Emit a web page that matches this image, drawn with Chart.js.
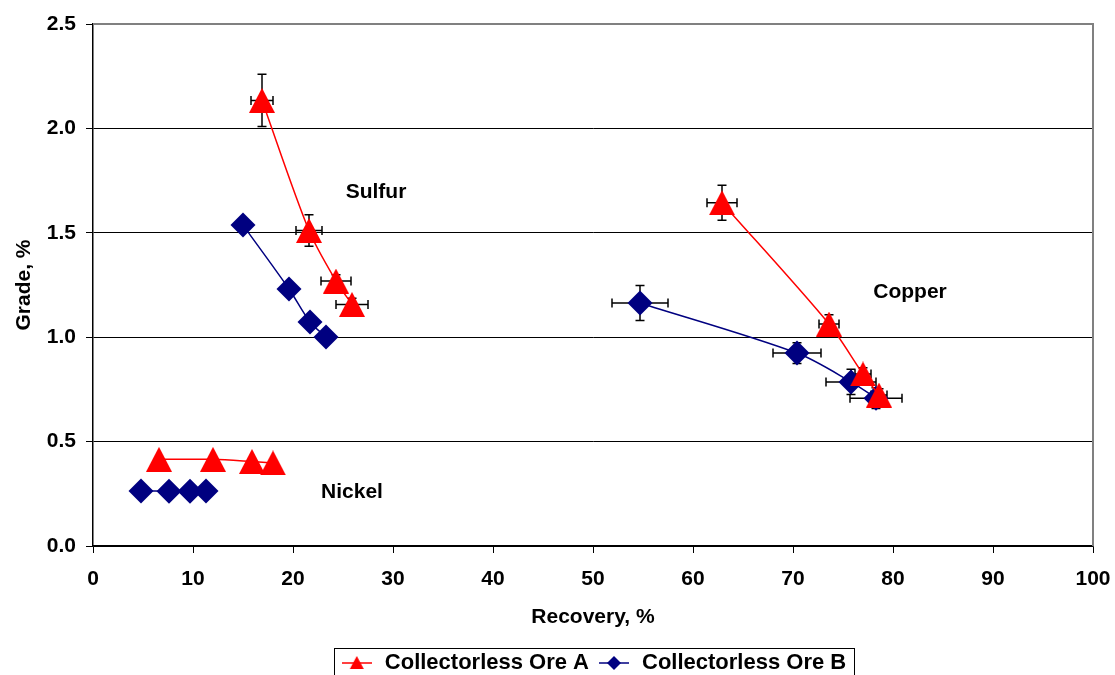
<!DOCTYPE html>
<html>
<head>
<meta charset="utf-8">
<title>Grade vs recovery</title>
<script src="https://cdn.jsdelivr.net/npm/chart.js@4.4.1/dist/chart.umd.min.js"></script>
<style>
  html, body { margin: 0; padding: 0; background: #fff; overflow: hidden; }
</style>
</head>
<body>
<canvas id="grade-chart" width="1115" height="690"></canvas>
<script>
// ---------- data ----------
const oreNames = ['Collectorless Ore A', 'Collectorless Ore B'];
const mineralNames = ['Nickel', 'Sulfur', 'Copper'];
const mineralLabelX = [25.9, 28.3, 81.7];
const mineralLabelY = [0.259, 1.695, 1.216];

// Ore A
const recA_Ni = [6.6, 12.0, 15.9, 18.0];
const gradeA_Ni = [0.415, 0.415, 0.405, 0.398];
const recA_S = [16.9, 21.6, 24.3, 25.9];
const gradeA_S = [2.134, 1.511, 1.269, 1.157];
const recErrA_S = [1.1, 1.3, 1.5, 1.6];
const gradeErrA_S = [0.125, 0.075, 0.03, 0.03];
const recA_Cu = [62.9, 73.6, 77.0, 78.6];
const gradeA_Cu = [1.644, 1.063, 0.824, 0.723];
const recErrA_Cu = [1.5, 1.0, 0.8, 0.8];
const gradeErrA_Cu = [0.084, 0.045, 0.03, 0.03];

// Ore B
const recB_Ni = [4.8, 7.6, 9.7, 11.3];
const gradeB_Ni = [0.264, 0.262, 0.262, 0.264];
const recB_S = [15.0, 19.6, 21.7, 23.3];
const gradeB_S = [1.537, 1.231, 1.073, 1.001];
const recB_Cu = [54.7, 70.4, 75.8, 78.3];
const gradeB_Cu = [1.164, 0.924, 0.786, 0.708];
const recErrB_Cu = [2.8, 2.4, 2.5, 2.6];
const gradeErrB_Cu = [0.084, 0.05, 0.06, 0.05];

const RED = '#ff0000';
const NAVY = '#000080';
const FONT = "'Liberation Sans', Arial, sans-serif";

// triangle marker centred on its bounding box (Excel style)
function triangleMarker(color, w, h) {
  const c = document.createElement('canvas');
  c.width = w; c.height = h;
  const g = c.getContext('2d');
  g.fillStyle = color;
  g.beginPath();
  g.moveTo(w / 2, 0);
  g.lineTo(w, h);
  g.lineTo(0, h);
  g.closePath();
  g.fill();
  return c;
}

// small line + marker swatch for the legend
function legendIcon(color, shape) {
  const c = document.createElement('canvas');
  c.width = 30; c.height = 16;
  const g = c.getContext('2d');
  g.strokeStyle = color;
  g.lineWidth = 1.5;
  g.beginPath(); g.moveTo(0, 8); g.lineTo(30, 8); g.stroke();
  g.fillStyle = color;
  g.beginPath();
  if (shape === 'triangle') {
    g.moveTo(15, 1); g.lineTo(22, 14); g.lineTo(8, 14);
  } else {
    g.moveTo(15, 1); g.lineTo(22, 8); g.lineTo(15, 15); g.lineTo(8, 8);
  }
  g.closePath(); g.fill();
  return c;
}

const triA = triangleMarker(RED, 26, 25);
const legendIcons = [legendIcon(RED, 'triangle'), legendIcon(NAVY, 'diamond')];

function series(label, xs, ys, color, marker, radius, xErr, yErr) {
  return {
    label: label,
    data: xs.map((x, i) => ({ x: x, y: ys[i] })),
    showLine: true,
    tension: 0.3,
    borderColor: color,
    borderWidth: 1.5,
    backgroundColor: color,
    pointStyle: marker,
    pointRadius: radius,
    pointBorderWidth: 0,
    pointBackgroundColor: color,
    pointBorderColor: color,
    xErr: xErr,
    yErr: yErr
  };
}

const datasets = [
  series(oreNames[0], recA_Ni, gradeA_Ni, RED, triA, 13),
  series(oreNames[0], recA_S, gradeA_S, RED, triA, 13, recErrA_S, gradeErrA_S),
  series(oreNames[0], recA_Cu, gradeA_Cu, RED, triA, 13, recErrA_Cu, gradeErrA_Cu),
  series(oreNames[1], recB_Ni, gradeB_Ni, NAVY, 'rectRot', 12.5),
  series(oreNames[1], recB_S, gradeB_S, NAVY, 'rectRot', 12.5),
  series(oreNames[1], recB_Cu, gradeB_Cu, NAVY, 'rectRot', 12.5, recErrB_Cu, gradeErrB_Cu)
];

// error bars sit behind the markers
const errorBars = {
  id: 'errorBars',
  beforeDatasetsDraw(chart) {
    const { ctx, scales: { x, y } } = chart;
    const cap = 4.5;
    ctx.save();
    ctx.strokeStyle = '#000';
    ctx.lineWidth = 1.5;
    chart.data.datasets.forEach(ds => {
      if (!ds.xErr) return;
      ds.data.forEach((p, i) => {
        const px = x.getPixelForValue(p.x);
        const py = y.getPixelForValue(p.y);
        const xl = x.getPixelForValue(p.x - ds.xErr[i]);
        const xr = x.getPixelForValue(p.x + ds.xErr[i]);
        const yt = y.getPixelForValue(p.y + ds.yErr[i]);
        const yb = y.getPixelForValue(p.y - ds.yErr[i]);
        ctx.beginPath();
        ctx.moveTo(xl, py); ctx.lineTo(xr, py);
        ctx.moveTo(xl, py - cap); ctx.lineTo(xl, py + cap);
        ctx.moveTo(xr, py - cap); ctx.lineTo(xr, py + cap);
        ctx.moveTo(px, yt); ctx.lineTo(px, yb);
        ctx.moveTo(px - cap, yt); ctx.lineTo(px + cap, yt);
        ctx.moveTo(px - cap, yb); ctx.lineTo(px + cap, yb);
        ctx.stroke();
      });
    });
    ctx.restore();
  }
};

// gray frame on top and right of the plot area
const plotFrame = {
  id: 'plotFrame',
  beforeDatasetsDraw(chart) {
    const { ctx, chartArea: a } = chart;
    ctx.save();
    ctx.strokeStyle = '#808080';
    ctx.lineWidth = 2;
    ctx.beginPath();
    ctx.moveTo(a.left, a.top);
    ctx.lineTo(a.right, a.top);
    ctx.lineTo(a.right, a.bottom);
    ctx.stroke();
    ctx.restore();
  }
};

// mineral names written inside the plot
const mineralLabels = {
  id: 'mineralLabels',
  afterDatasetsDraw(chart) {
    const { ctx, scales: { x, y } } = chart;
    ctx.save();
    ctx.font = 'bold 21px ' + FONT;
    ctx.fillStyle = '#000';
    ctx.textAlign = 'center';
    ctx.textBaseline = 'middle';
    mineralNames.forEach((name, i) => {
      ctx.fillText(name, x.getPixelForValue(mineralLabelX[i]), y.getPixelForValue(mineralLabelY[i]));
    });
    ctx.restore();
  }
};

// border round the legend entries
const legendBox = {
  id: 'legendBox',
  afterDraw(chart) {
    const boxes = chart.legend && chart.legend.legendHitBoxes;
    if (!boxes || !boxes.length) return;
    const first = boxes[0], last = boxes[boxes.length - 1];
    const { ctx } = chart;
    ctx.save();
    ctx.strokeStyle = '#000';
    ctx.lineWidth = 1;
    ctx.strokeRect(Math.round(first.left - 6) + 0.5, Math.round(first.top - 4) + 0.5,
      Math.round(last.left + last.width - first.left + 14), 40);
    ctx.restore();
  }
};

new Chart(document.getElementById('grade-chart'), {
  type: 'scatter',
  data: { datasets: datasets },
  plugins: [plotFrame, errorBars, mineralLabels, legendBox],
  options: {
    responsive: false,
    animation: false,
    events: [],
    layout: { padding: { top: 24, right: 22, bottom: 6, left: 0 } },
    plugins: {
      tooltip: { enabled: false },
      legend: {
        position: 'bottom',
        fullSize: false,
        labels: {
          usePointStyle: true,
          pointStyleWidth: 34,
          padding: 8,
          color: '#000',
          font: { family: FONT, size: 22, weight: 'bold' },
          generateLabels: () => oreNames.map((name, i) => ({
            text: name,
            pointStyle: legendIcons[i],
            fillStyle: 'transparent',
            strokeStyle: 'transparent',
            lineWidth: 0,
            fontColor: '#000',
            hidden: false,
            datasetIndex: i * 3
          }))
        }
      }
    },
    scales: {
      x: {
        type: 'linear',
        min: 0,
        max: 100,
        afterFit: s => {
          s.height = 98;
          // the end labels may hang past the plot edge
          s.paddingLeft = 0;
          s.paddingRight = 0;
        },
        ticks: { stepSize: 10, padding: 14, color: '#000', font: { family: FONT, size: 21, weight: 'bold' } },
        grid: { drawOnChartArea: false, tickLength: 7, color: '#000', lineWidth: 1 },
        border: { color: '#000', width: 1.5 },
        title: {
          display: true,
          text: 'Recovery, %',
          color: '#000',
          font: { family: FONT, size: 21, weight: 'bold' },
          padding: { top: 0, bottom: 14 }
        }
      },
      y: {
        type: 'linear',
        min: 0,
        max: 2.5,
        afterFit: s => { s.width = 93; },
        ticks: {
          stepSize: 0.5,
          padding: 10,
          color: '#000',
          font: { family: FONT, size: 21, weight: 'bold' },
          callback: v => v.toFixed(1)
        },
        grid: { tickLength: 7, color: '#000', lineWidth: 1 },
        border: { color: '#000', width: 1.5 },
        title: {
          display: true,
          text: 'Grade, %',
          color: '#000',
          font: { family: FONT, size: 21, weight: 'bold' },
          padding: { top: 12, bottom: 0 }
        }
      }
    }
  }
});
</script>
</body>
</html>
